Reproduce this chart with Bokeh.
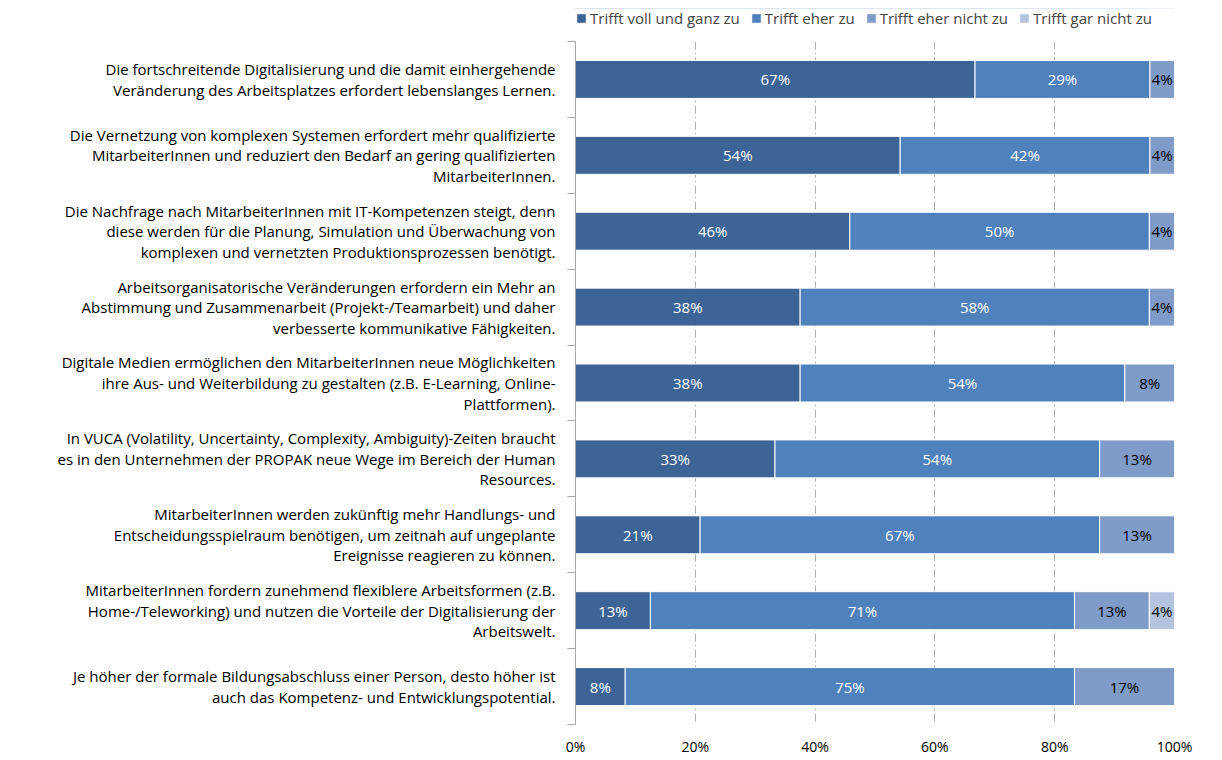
from bokeh.plotting import figure
from bokeh.layouts import column
from bokeh.models import (ColumnDataSource, Range1d, FixedTicker, Legend, LegendItem,
                          LabelSet, PrintfTickFormatter)
from bokeh.core.properties import value
from bokeh.embed import file_html
from bokeh.resources import INLINE

statements = [
    "Die fortschreitende Digitalisierung und die damit einhergehende\nVeränderung des Arbeitsplatzes erfordert lebenslanges Lernen.",
    "Die Vernetzung von komplexen Systemen erfordert mehr qualifizierte\nMitarbeiterInnen und reduziert den Bedarf an gering qualifizierten\nMitarbeiterInnen.",
    "Die Nachfrage nach MitarbeiterInnen mit IT-Kompetenzen steigt, denn\ndiese werden für die Planung, Simulation und Überwachung von\nkomplexen und vernetzten Produktionsprozessen benötigt.",
    "Arbeitsorganisatorische Veränderungen erfordern ein Mehr an\nAbstimmung und Zusammenarbeit (Projekt-/Teamarbeit) und daher\nverbesserte kommunikative Fähigkeiten.",
    "Digitale Medien ermöglichen den MitarbeiterInnen neue Möglichkeiten\nihre Aus- und Weiterbildung zu gestalten (z.B. E-Learning, Online-\nPlattformen).",
    "In VUCA (Volatility, Uncertainty, Complexity, Ambiguity)-Zeiten braucht\nes in den Unternehmen der PROPAK neue Wege im Bereich der Human\nResources.",
    "MitarbeiterInnen werden zukünftig mehr Handlungs- und\nEntscheidungsspielraum benötigen, um zeitnah auf ungeplante\nEreignisse reagieren zu können.",
    "MitarbeiterInnen fordern zunehmend flexiblere Arbeitsformen (z.B.\nHome-/Teleworking) und nutzen die Vorteile der Digitalisierung der\nArbeitswelt.",
    "Je höher der formale Bildungsabschluss einer Person, desto höher ist\nauch das Kompetenz- und Entwicklungspotential.",
]

series_names = ["Trifft voll und ganz zu", "Trifft eher zu", "Trifft eher nicht zu", "Trifft gar nicht zu"]
voll_und_ganz = [66.7, 54.2, 45.8, 37.5, 37.5, 33.3, 20.8, 12.5, 8.3]
eher_zu = [29.2, 41.7, 50.0, 58.3, 54.2, 54.2, 66.7, 70.8, 75.0]
eher_nicht = [4.2, 4.2, 4.2, 4.2, 8.3, 12.5, 12.5, 12.5, 16.7]
gar_nicht = [0, 0, 0, 0, 0, 0, 0, 4.2, 0]
x_ticks = [0, 20, 40, 60, 80, 100]

colors = ["#3C6496", "#4F81BD", "#7F9CC8", "#B4C4DF"]
label_colors = ["white", "white", "black", "black"]

FONT = "Open Sans"
n = len(statements)
ys = list(range(n))

# ---- main chart
p = figure(width=1218, height=717, output_backend="svg", toolbar_location=None,
           x_range=Range1d(0, 100), y_range=Range1d(n - 0.5, -0.5),
           min_border_left=575, min_border_right=44, min_border_top=0, min_border_bottom=33)
p.outline_line_color = None
p.background_fill_color = "white"

sources = []
lefts = [0.0] * n
for k, vals in enumerate([voll_und_ganz, eher_zu, eher_nicht, gar_nicht]):
    rights = [min(100.0, l + v) for l, v in zip(lefts, vals)]
    src = ColumnDataSource(dict(
        y=ys, left=lefts, right=rights,
        mid=[(l + r) / 2 for l, r in zip(lefts, rights)],
        lab=[f"{int(v + 0.5)}%" if v > 0 else "" for v in vals],
    ))
    sources.append(src)
    p.hbar(y="y", left="left", right="right", height=0.5, source=src,
           fill_color=colors[k], line_color="white", line_width=1)
    ls = LabelSet(x="mid", y="y", text="lab", source=src, text_align="center",
                  text_baseline="middle", text_color=label_colors[k],
                  text_font=value(FONT), text_font_size="15px")
    p.add_layout(ls)
    lefts = rights

yax = p.yaxis[0]
yax.ticker = FixedTicker(ticks=ys, minor_ticks=[i - 0.5 for i in range(n + 1)])
yax.major_label_overrides = {i: s for i, s in enumerate(statements)}
yax.major_tick_line_color = None
yax.major_tick_out = 0
yax.major_tick_in = 0
yax.minor_tick_out = 8
yax.minor_tick_in = 0
yax.minor_tick_line_color = "#A6A6A6"
yax.axis_line_color = "#A6A6A6"
yax.major_label_text_font = FONT
yax.major_label_text_font_size = "15px"
yax.major_label_text_color = "#000000"
yax.major_label_text_line_height = 1.03
yax.major_label_standoff = 12

xax = p.xaxis[0]
xax.ticker = FixedTicker(ticks=x_ticks)
xax.formatter = PrintfTickFormatter(format="%d%%")
xax.axis_line_color = None
xax.major_tick_line_color = None
xax.minor_tick_line_color = None
xax.major_tick_out = 0
xax.major_tick_in = 0
xax.major_label_text_font = FONT
xax.major_label_text_font_size = "14px"
xax.major_label_text_color = "#000000"
xax.major_label_standoff = 12

p.ygrid.grid_line_color = None
p.xgrid.ticker = FixedTicker(ticks=x_ticks[1:])
p.xgrid.grid_line_color = "#B0B0B0"
p.xgrid.grid_line_dash = "8 3 2 3"
p.xgrid.grid_line_width = 1

# ---- legend strip above the chart (its bars lie outside its visible range)
lg = figure(width=1218, height=41, output_backend="svg", toolbar_location=None,
            x_range=Range1d(0, 100), y_range=Range1d(-3, -2),
            x_axis_type=None, y_axis_type=None,
            min_border_left=575, min_border_right=44, min_border_top=8, min_border_bottom=0)
lg.outline_line_color = None
lg.grid.visible = False
items = []
for k, name in enumerate(series_names):
    r = lg.hbar(y="y", left="left", right="right", height=0.5, source=sources[k],
                fill_color=colors[k], line_color="white", line_width=1)
    items.append(LegendItem(label=name, renderers=[r]))
legend = Legend(items=items, orientation="horizontal", location="top_left",
                border_line_color=None, background_fill_alpha=0, padding=0, margin=0,
                glyph_width=12, glyph_height=12, label_standoff=3, spacing=10,
                label_text_font=FONT, label_text_font_size="15px", label_height=18)
lg.add_layout(legend)

layout = column(lg, p, spacing=0)
open("out.html", "w").write(file_html(layout, INLINE))
